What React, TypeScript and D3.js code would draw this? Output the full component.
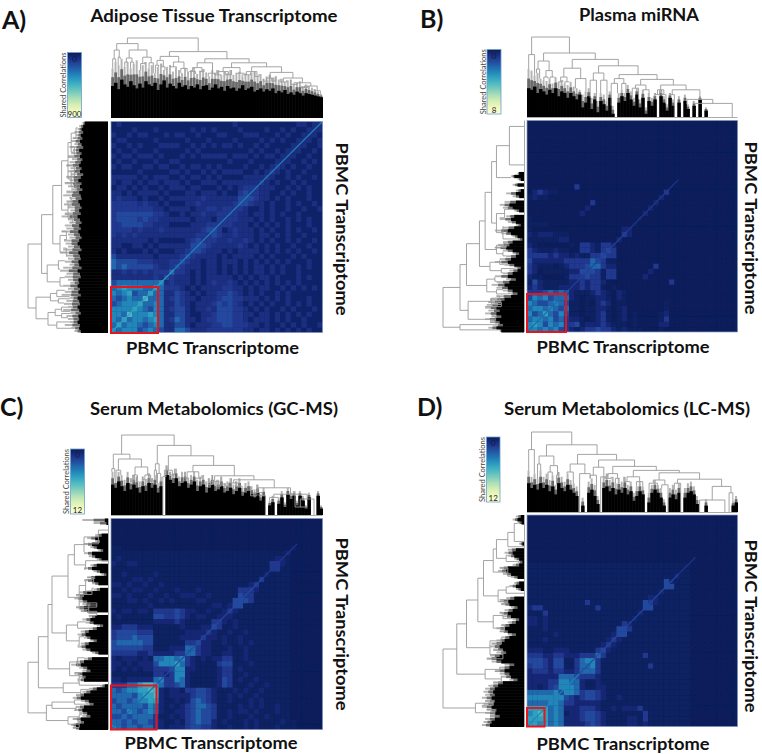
import React, { useEffect, useRef } from "react";
import * as d3 from "d3";

type Tree = number | any[];

// heatmap values, lower right triangle only, row 0 is the bottom row and each row starts on the diagonal
const heatA = [
  "6566645654225542223333333221221212121211",
  "756654565224421222334433322121121212112",
  "75665675235422123344433212221212112111",
  "8666765224421122344433221221212121211",
  "765465234421223244433212121121211121",
  "75565224321222343432121212112121211",
  "8555234322122234433222121212111211",
  "755224321212233432121211212111111",
  "75333212122223322121221121212121",
  "6232221212322321212121212121111",
  "432221212222212121221211121211",
  "5332121221212121221212112111",
  "4322212212121212212121121211",
  "432212212221212121212111211",
  "43222212122221212111212111",
  "4432221212222121212121121",
  "443222223212121211211211",
  "33322322321212112121121",
  "3432232221221212112111",
  "431232221212112121121",
  "33322212121212111211",
  "3332221212112121211",
  "332212212121121111",
  "33211212112112112",
  "4432212112121121",
  "443221212111211",
  "33221121211211",
  "3222112121211",
  "321211212111",
  "32112121121",
  "3212112111",
  "321211211",
  "22112121",
  "2211211",
  "221121",
  "22112",
  "2212",
  "221",
  "22",
  "2",
];
const heatB = [
  "66565643212334332121110001",
  "76465633412223211101000022",
  "6564532210123101201000013",
  "754641101123101201000012",
  "65451101122101200000001",
  "6541101023201100000001",
  "5521011221021",
  "421112321021",
  "223233101",
  "2323320000000000003",
  "3433133000002",
  "4431330000002",
  "5532200000003",
  "4311",
  "433",
  "43",
  "2",
  "2",
  "32",
  "2",
  "1",
  "1",
  "2",
  "2",
  "2",
  "2",
  "3",
];
const heatC = [
  "65455455321222344332112112121112111",
  "5454554321121345442121112121111211",
  "545555311212345443112111211211",
  "65456521122345443112122121112",
  "5546521212345543111121212112",
  "66772112124543211211121211",
  "7782122223443211212112111",
  "88212213344321112121121",
  "7533452111112431112112",
  "633652111112431211211",
  "23662111112331121",
  "46622111123312111",
  "7532111134411121",
  "6321212233112111",
  "55322112211211",
  "5322111211211",
  "42211211212",
  "322121121",
  "32112112",
  "4311211",
  "321211",
  "22111",
  "3211",
  "4411",
  "443",
  "331",
  "32",
  "31",
  "31",
  "21",
  "33",
  "32",
  "2",
  "2",
  "1",
];
const heatD = [
  "7767565222234321111221211111",
  "777565222344321111221311111",
  "87565122344321111111311",
  "756522233321121222311",
  "66533222221111111",
  "664323443211211",
  "4665344321111",
  "66521122",
  "5521121",
  "4333211",
  "55531",
  "5631111111113",
  "63",
  "5311111113",
  "42",
  "3211",
  "321",
  "441",
  "43",
  "21",
  "2",
  "2",
  "44",
  "32",
  "2",
  "2",
  "44",
  "2",
  "2",
  "1",
];
// the faint speckle reaches this far along each axis, past it the map is empty
const faintLimit = [40, 0, 34, 31];
// strength that digits 1 and 2 stand for in each panel: A is speckled all over, the others barely
const lowDigits = [[1, 2], [0.4, 1.5], [0.4, 1.5], [0.4, 1.5]];

// thin bright line down the diagonal: from, to, strength
const diagA = [[0, 30, 7], [30, 100, 6]];
const diagB = [[0, 20, 5], [20, 48, 3.5], [48, 72, 3]];
const diagC = [[0, 22, 5], [22, 72, 4], [72, 88, 3]];
const diagD = [[0, 25, 6], [25, 72, 4], [72, 80, 3]];

// dendrogram trees: [height, left, right], a bare number is a leaf position (0-100)
const treeATop: Tree = [100,
  [93, [85, [74, 0.8, 2.2], [76, 3.4, 4.4]], [85, [75, [70, 6.5, 8], [70, 9.2, 10.6]], [76, [68, 14, 16], [69, 18, 20]]]],
  [83, [77, [72, [66, 21, 22.5], [64, 24, 25.5]], [70, [64, 28, 31], [62, 33, 36]]],
    [74, [69, [63, [58, 37, 40], [58, 42, 44]], [56, 46, 50]],
      [69, [63, [58, [54, 49, 52], [54, 54, 57]], [56, 59, 63]],
        [64, [58, [54, 62, 66], [52, 68, 70]],
          [57, [50, [46, 72, 75], [46, 76, 78]], [50, [45, 80, 83], [44, [42, 85, 88], [40, [38, 90, 93], [34, 96, 99]]]]]]]]]];
const treeALeft: Tree = [100,
  [83, [69, [58, [50, [46, [40, 3, 8], [42, 12, 17]], [46, [42, 21, 26], [40, 29, 33]]], [50, [46, 36, 40], [44, 44, 48]]], [60, [52, 52, 56], [52, 60, 64]]],
    [76, [62, 66, 70], [60, 74, 78]]],
  [90, [72, [64, 80, 83], [62, 84, 86]], [75, [66, [58, 88, 90], [58, 91, 93]], [64, 95, 98]]]];
const treeBTop: Tree = [100,
  [78, 0.8, 3.6],
  [80, [70, [60, 4.5, 6], [58, [50, 8, 10], [50, 11, 13]]],
    [72, [61, [50, [44, 15, 17], [44, 18, 20]], [48, 23, 28]],
      [64, [55, [46, 30, 33], [46, 35, 38]],
        [53, [48, [42, 40, 43], [42, 45, 47]],
          [47, [40, [36, 50, 53], [34, 55, 58]],
            [40, [34, [28, 61, 63], [28, 64, 66]], [34, [28, 68, 70], [22, 76, [17, 79, 97.5]]]]]]]]]];
const treeBLeft: Tree = [100,
  [79, [71, [55, [48, [40, [34, [18, 2.8, 21], 27], [34, [24, 42, 46], [26, 50, 56]]], [34, [22, 58, 60], [26, 62, 64]]], [42, [30, 66, 68], [28, 70, 72]]],
    [46, [36, 74, 76], [34, 80, 82]]],
    [69, [40, [30, 83, 85], [28, 86, 88]], [35, 92.5, 95.5]]],
  [79, 96.5, 99]];
const treeCTop: Tree = [100,
  [76, [58, 0.4, 1.8], [70, [56, 2.4, 4.6], [60, [50, [42, 9.5, 11], [42, 12, 13]], [50, [44, 15, 17], [42, 18, 19.5]]]]],
  [87, [64, [56, 20.5, 21.5], [52, 22, 23.5]],
    [74, [56, [48, 24.5, 26], [50, 28, 30]],
      [62, [54, [46, 35, 37], [46, 40, 43]],
        [49, [42, [38, 46, 48], [36, 50, 52]],
          [44, [40, [36, 54, 57], [36, 59, 62]],
            [34, [28, [24, 66, 69], [24, 70, 73]], [26, [22, 75, 79], [20, [10, 87, 92], 96]]]]]]]]];
const treeCLeft: Tree = [100,
  [87, [75, [70, [50, [42, [30, [12, 5.5, 12], 16], [28, 20, 24]], [36, [28, [18, 28, 30], [20, 33, 36]], [24, [14, 40, 42], [14, 44, 46]]]],
    [52, [38, 49, 52], [36, 56, 60]]], [48, [38, 66, 70], [36, 73, 76]]],
    [56, [36, 77, 79], [34, 81, 84]]],
  [77, [70, [42, 86, 88], [40, 89, 91]], [50, [36, 93, 95], [36, 96, 99]]]];
const treeDTop: Tree = [100,
  [78, 0.8, 3.5],
  [84, [70, [60, 5, 6.5], [58, [50, 10, 12], [46, 14, 15]]],
    [72, [60, [50, 19, 22], [48, 25, 30]],
      [65, [56, [46, 30, 33], [44, 35, 38]],
        [57, [48, [42, 37, 40], [42, 42, 44]],
          [52, [44, [38, 46, 49], [38, 52, 55]],
            [49, [40, [36, 58, 62], [34, 64, 67]],
              [41, [36, 70, 73], [32, [15, 82, 94], [24, 96, 97.8]]]]]]]]]];
const treeDLeft: Tree = [100,
  [83, [71, [57, [50, [38, [34, [20, [12, 4, 12.5], 15], [22, 19, 22]], [20, 25, 29]], [32, [22, 34, 37], [20, 40, 42]]], [38, [26, 46, 49], [24, 52, 55]]],
    [42, [28, 58, 61], [26, 64, 68]]],
    [48, [30, 72, 74], [28, 76, 79]]],
  [60, [38, 88, 90], [36, 92, 95]]];

// silhouette of the dense leaves, height of the solid black and of the grey fringe above it
const blackATop = [40, 44, 36, 48, 42, 39, 46, 41, 37, 43, 38, 46, 42, 40, 44, 35, 42, 47, 38, 43, 40, 37, 44, 39, 41, 36, 40, 38, 42, 36, 40, 41, 35, 38, 42, 37, 39, 34, 40, 37, 38, 34, 37, 41, 35, 37, 39, 33, 35, 37, 33, 36, 34, 37, 31, 34, 32, 35, 30, 32, 29, 33, 31, 28, 31, 30, 29, 28, 27, 26];
const greyATop = [62, 70, 66, 74, 64, 70, 62, 68, 72, 60, 66, 70, 62, 66, 56, 64, 68, 60, 64, 66, 58, 63, 60, 56, 62, 58, 60, 63, 55, 59, 61, 57, 52, 60, 56, 60, 54, 58, 56, 60, 54, 56, 58, 52, 56, 54, 57, 58, 52, 55, 49, 52, 54, 50, 52, 48, 49, 45, 47, 48, 42, 44, 46, 40, 42, 40, 38, 36, 33, 30];
const blackALeft = [29, 31, 33, 31, 34, 32, 35, 33, 31, 36, 33, 35, 32, 34, 36, 33, 35, 31, 34, 37, 33, 35, 32, 36, 34, 33, 37, 35, 33, 36, 34, 38, 35, 33, 36, 34, 37, 35, 33, 36, 38, 35, 33, 37, 35, 34, 37, 36, 33, 38, 35, 34, 37, 36, 38, 35, 37, 34, 38, 36, 35, 38, 36, 34, 37, 36, 38, 35, 36, 34];
const greyALeft = [32, 36, 38, 42, 40, 44, 46, 42, 48, 44, 46, 50, 45, 48, 52, 47, 50, 46, 52, 48, 54, 50, 46, 52, 56, 48, 52, 55, 50, 47, 54, 58, 50, 48, 54, 52, 58, 50, 48, 55, 53, 50, 56, 60, 52, 50, 54, 48, 56, 60, 52, 54, 50, 47, 56, 50, 54, 58, 48, 52, 55, 50, 56, 47, 52, 50, 48, 54, 46, 42];
const blackBTop = [36, 34, 38, 30, 35, 32, 28, 34, 30, 36, 26, 32, 30, 24, 30, 26, 22, 28, 12, 18, 26, 10, 22, 6, 20, 16, 8, 24, 4, 0, 18, 26, 20, 30, 22, 14, 28, 12, 24, 4, 20, 14, 22, 0, 26, 18, 8, 24, 14, 0, 18, 0, 20, 10, 0, 14, 0, 22, 0, 8, 0, 0, 0, 0, 0, 0, 0, 0, 0, 0];
const greyBTop = [60, 58, 52, 55, 48, 46, 45, 48, 42, 50, 44, 46, 42, 40, 44, 38, 36, 34, 28, 32, 36, 24, 30, 20, 30, 28, 20, 32, 14, 0, 30, 34, 30, 40, 32, 24, 36, 22, 34, 12, 30, 24, 30, 0, 34, 26, 16, 30, 22, 0, 26, 0, 28, 16, 0, 20, 0, 26, 0, 12, 0, 0, 0, 0, 0, 0, 0, 0, 0, 0];
const blackBLeft = [0, 0, 0, 0, 0, 0, 0, 0, 0, 0, 0, 0, 0, 0, 0, 0, 0, 0, 6, 12, 4, 0, 8, 0, 4, 10, 6, 0, 10, 18, 14, 6, 0, 12, 16, 10, 4, 12, 20, 16, 8, 2, 14, 18, 22, 14, 6, 10, 16, 20, 12, 4, 8, 14, 20, 10, 18, 24, 20, 14, 8, 16, 24, 28, 32, 34, 30, 34, 28, 36, 30, 26, 34, 28];
const greyBLeft = [0, 0, 0, 0, 0, 0, 0, 0, 0, 0, 0, 0, 0, 0, 0, 0, 0, 0, 8, 16, 8, 0, 14, 0, 10, 22, 14, 0, 24, 30, 26, 12, 0, 22, 30, 20, 10, 26, 36, 28, 14, 8, 26, 32, 36, 26, 14, 22, 30, 36, 24, 12, 18, 26, 36, 22, 34, 40, 34, 26, 20, 34, 42, 44, 46, 48, 44, 48, 40, 48, 42, 38, 44, 30];
const blackCTop = [38, 34, 42, 36, 30, 40, 32, 38, 34, 28, 36, 30, 40, 34, 38, 28, 36, 0, 50, 44, 40, 46, 36, 40, 42, 34, 38, 42, 30, 36, 38, 28, 34, 38, 30, 32, 36, 28, 30, 34, 26, 30, 34, 24, 28, 30, 26, 22, 28, 18, 24, 0, 12, 16, 0, 14, 22, 10, 26, 20, 24, 12, 24, 18, 8, 22, 0, 0, 24, 8];
const greyCTop = [54, 46, 54, 50, 44, 54, 46, 50, 48, 42, 48, 44, 52, 46, 50, 40, 48, 0, 62, 54, 52, 58, 48, 54, 54, 46, 50, 54, 44, 48, 50, 42, 46, 50, 42, 44, 48, 40, 42, 46, 38, 42, 46, 34, 40, 42, 36, 32, 38, 26, 34, 0, 18, 24, 0, 22, 30, 16, 34, 28, 30, 18, 30, 24, 12, 28, 0, 0, 30, 12];
const blackCLeft = [4, 2, 0, 0, 0, 8, 16, 10, 20, 14, 6, 20, 16, 8, 0, 14, 20, 10, 2, 16, 20, 12, 0, 10, 26, 30, 32, 26, 22, 30, 26, 0, 16, 22, 18, 6, 14, 24, 28, 22, 14, 24, 28, 22, 12, 0, 20, 30, 34, 26, 22, 32, 28, 30, 0, 4, 14, 22, 30, 34, 24, 18, 30, 32, 26, 22, 34, 30, 40, 36];
const greyCLeft = [32, 18, 0, 0, 0, 16, 26, 16, 30, 22, 12, 30, 24, 14, 0, 22, 30, 18, 8, 26, 30, 20, 0, 18, 36, 40, 42, 36, 32, 40, 34, 0, 24, 32, 28, 14, 24, 34, 38, 30, 22, 34, 38, 32, 20, 0, 30, 40, 46, 36, 32, 42, 36, 38, 0, 10, 24, 32, 40, 44, 34, 28, 40, 42, 36, 32, 44, 38, 46, 44];
const blackDTop = [36, 30, 34, 28, 36, 30, 34, 26, 32, 22, 36, 30, 26, 34, 28, 24, 20, 0, 8, 0, 24, 28, 20, 10, 0, 30, 32, 26, 30, 22, 28, 24, 30, 22, 26, 14, 20, 26, 22, 0, 12, 24, 28, 24, 18, 8, 0, 18, 22, 16, 24, 0, 18, 24, 26, 22, 10, 0, 0, 8, 0, 0, 0, 0, 0, 0, 0, 0, 8, 12];
const greyDTop = [52, 44, 48, 42, 52, 44, 48, 40, 46, 34, 50, 44, 38, 48, 40, 36, 32, 0, 18, 0, 38, 42, 34, 20, 0, 44, 48, 40, 44, 36, 42, 38, 44, 34, 38, 24, 32, 38, 32, 0, 24, 34, 40, 34, 30, 16, 0, 30, 34, 28, 36, 0, 30, 36, 38, 32, 20, 0, 0, 16, 0, 0, 0, 0, 0, 0, 0, 0, 14, 20];
const blackDLeft = [4, 8, 3, 0, 0, 0, 0, 0, 0, 2, 0, 10, 14, 12, 6, 2, 6, 20, 22, 16, 8, 0, 6, 10, 4, 0, 0, 12, 20, 18, 8, 14, 20, 16, 6, 10, 18, 24, 20, 10, 18, 24, 28, 30, 26, 22, 30, 34, 28, 12, 18, 24, 18, 16, 8, 26, 32, 36, 38, 36, 40, 36, 38, 40, 34, 36, 30, 36, 40, 42];
const greyDLeft = [10, 14, 8, 0, 0, 0, 0, 0, 0, 6, 0, 20, 24, 20, 12, 8, 14, 30, 32, 26, 16, 0, 12, 18, 10, 0, 0, 22, 30, 28, 16, 24, 30, 26, 14, 20, 28, 34, 30, 20, 28, 34, 40, 42, 38, 34, 42, 46, 40, 24, 30, 36, 30, 28, 18, 38, 44, 48, 50, 48, 52, 48, 50, 52, 46, 48, 42, 48, 50, 52];

const legendMaxA = "900";
const legendMaxB = "8";
const legendMaxC = "12";
const legendMaxD = "12";
const bottomLabel = "PBMC Transcriptome";

// x0,x1,y0,y1 of the heatmap, then everything hung around it
const LAYOUT = [
  { tag: "A)", tagX: 2, tagY: 29, title: "Adipose Tissue Transcriptome", titleX: 214, titleY: 22, titleW: 247, hm: [111, 322.5, 121.5, 332.5], topY: [38, 118], leftX: [28, 108], bar: [67.5, 81.5, 52.5, 117.5], boxX: [111, 158], boxY: [287, 333], bottomX: 212.5, bottomY: 354, rightX: 336, rightY: 229, axis: false },
  { tag: "B)", tagX: 420, tagY: 28, title: "Plasma miRNA", titleX: 639, titleY: 21, titleW: 120, hm: [527, 737.5, 120.5, 332], topY: [37, 117], leftX: [443, 524], bar: [487, 501, 49.5, 114], boxX: [527, 566], boxY: [294, 332], bottomX: 623, bottomY: 353, rightX: 745, rightY: 228, axis: true },
  { tag: "C)", tagX: 0, tagY: 416, title: "Serum Metabolomics (GC-MS)", titleX: 214, titleY: 415, titleW: 248, hm: [111, 322.5, 518.5, 729.5], topY: [435, 515], leftX: [28, 108], bar: [70.5, 84.5, 449, 514], boxX: [111, 156.5], boxY: [685.5, 729.5], bottomX: 211, bottomY: 749, rightX: 336, rightY: 624, axis: true },
  { tag: "D)", tagX: 417, tagY: 416, title: "Serum Metabolomics (LC-MS)", titleX: 627, titleY: 415, titleW: 246, hm: [527, 737.5, 515, 726.5], topY: [432, 512], leftX: [443, 524], bar: [486.5, 500, 437, 502], boxX: [527, 544.5], boxY: [708, 726.5], bottomX: 623, bottomY: 750, rightX: 745, rightY: 626, axis: true },
];
const heats = [heatA, heatB, heatC, heatD];
const diags = [diagA, diagB, diagC, diagD];
const topTrees = [treeATop, treeBTop, treeCTop, treeDTop];
const leftTrees = [treeALeft, treeBLeft, treeCLeft, treeDLeft];
const topBlack = [blackATop, blackBTop, blackCTop, blackDTop];
const topGrey = [greyATop, greyBTop, greyCTop, greyDTop];
const leftBlack = [blackALeft, blackBLeft, blackCLeft, blackDLeft];
const leftGrey = [greyALeft, greyBLeft, greyCLeft, greyDLeft];
const legendMax = [legendMaxA, legendMaxB, legendMaxC, legendMaxD];

const FONT = "Lato,'Open Sans',sans-serif";
const N = 40;

// digit 0 is the darkest navy of the palette, digit 9 a pale teal; the low digits sit close together
const digitToT = d3.scaleLinear().domain([0, 1, 2, 3, 4, 5, 6, 7, 8, 9]).range([0.995, 0.965, 0.915, 0.87, 0.81, 0.73, 0.65, 0.57, 0.48, 0.38]);
const heatColor = (v: number) => d3.interpolateYlGnBu(digitToT(v));

function drawDendro(g: any, tree: Tree, black: number[], grey: number[], pos: number[], base: number[], horizontal: boolean) {
  const p = d3.scaleLinear().domain([0, 100]).range(pos);
  const h = d3.scaleLinear().domain([0, 100]).range(base);
  const band = d3.scaleBand<number>().domain(d3.range(black.length)).range(pos as [number, number]);
  const rects = (vals: number[], fill: string, shrink: number, extra: number) =>
    g.append("g").selectAll("rect").data(vals).join("rect")
      .attr("fill", fill)
      .attr(horizontal ? "x" : "y", (_: number, i: number) => band(i)! + (band.bandwidth() * (1 - shrink)) / 2)
      .attr(horizontal ? "width" : "height", (d: number) => (d > 0 ? band.bandwidth() * shrink + extra : 0))
      .attr(horizontal ? "y" : "x", (d: number) => (horizontal ? h(d) : Math.min(h(d), h(0))))
      .attr(horizontal ? "height" : "width", (d: number) => Math.abs(h(0) - h(d)));
  rects(grey, "#b4b4b4", 0.65, 0);
  // darker band where the fringe thickens towards the black
  rects(grey.map((v, i) => (v + black[i]) / 2), "#6a6a6a", 0.85, 0.2);
  rects(black, "#000", 1, 0.5);

  const root = d3.hierarchy<any>(tree, (n) => (Array.isArray(n) ? n.slice(1) : null));
  const fringe = (x: number) => grey[Math.min(grey.length - 1, Math.floor((x / 100) * grey.length))];
  root.eachAfter((n: any) => {
    if (n.children) {
      n.px = d3.mean(n.children, (c: any) => c.px);
      n.ph = n.data[0];
    } else {
      n.px = n.data;
      n.ph = fringe(n.data);
    }
  });
  const path = d3.path();
  const put = (a: number, b: number, move: boolean) => {
    const [x, y] = horizontal ? [p(a), h(b)] : [h(b), p(a)];
    if (move) path.moveTo(x, y);
    else path.lineTo(x, y);
  };
  root.each((n: any) => {
    if (!n.children) return;
    const [l, r] = n.children;
    put(l.px, l.ph, true);
    put(l.px, n.ph, false);
    put(r.px, n.ph, false);
    put(r.px, r.ph, false);
  });
  g.append("path").attr("d", path.toString()).attr("fill", "none").attr("stroke", "#9a9a9a").attr("stroke-width", 0.9);
}

const App = () => {
  const ref = useRef<SVGSVGElement>(null);
  useEffect(() => {
    const svg = d3.select(ref.current);
    svg.selectAll("*").remove();
    const defs = svg.append("defs");
    defs.append("filter").attr("id", "soft").attr("x", "-2%").attr("y", "-2%").attr("width", "104%").attr("height", "104%")
      .append("feGaussianBlur").attr("stdDeviation", 0.45);
    const grad = defs.append("linearGradient").attr("id", "ramp").attr("x1", 0).attr("x2", 0).attr("y1", 0).attr("y2", 1);
    d3.range(0, 1.001, 0.1).forEach((t) => {
      grad.append("stop").attr("offset", t).attr("stop-color", d3.interpolateYlGnBu(1 - t));
    });

    LAYOUT.forEach((L, k) => {
      const g = svg.append("g");
      const [x0, x1, y0, y1] = L.hm;
      const x = d3.scaleBand<number>().domain(d3.range(N)).range([x0, x1]);
      const y = d3.scaleBand<number>().domain(d3.range(N)).range([y1, y0]);
      defs.append("clipPath").attr("id", `clip${k}`).append("rect").attr("x", x0).attr("y", y0).attr("width", x1 - x0).attr("height", y1 - y0);

      // heatmap cells, mirrored across the diagonal; rows that stop early carry on faint up to the limit
      const cells: { i: number; j: number; v: number }[] = [];
      const level = (d: number) => (d === 1 || d === 2 ? lowDigits[k][d - 1] : d);
      d3.range(N).forEach((i) => {
        const row = heats[k][i] ?? "";
        d3.range(N - i).forEach((c) => {
          const v = level(c < row.length ? +row[c] : i + c < faintLimit[k] ? 1 : 0);
          cells.push({ i, j: i + c, v });
          if (c > 0) cells.push({ i: i + c, j: i, v });
        });
      });
      g.append("rect").attr("x", x0).attr("y", y0).attr("width", x1 - x0).attr("height", y1 - y0).attr("fill", heatColor(0));
      const hm = g.append("g").attr("clip-path", `url(#clip${k})`).append("g").attr("filter", "url(#soft)");
      hm.selectAll("rect").data(cells).join("rect")
        .attr("x", (d) => x(d.j)!)
        .attr("y", (d) => y(d.i)!)
        .attr("width", x.bandwidth() + 0.3)
        .attr("height", y.bandwidth() + 0.3)
        .attr("fill", (d) => heatColor(d.v));
      const dx = d3.scaleLinear().domain([0, 100]).range([x0, x1]);
      const dy = d3.scaleLinear().domain([0, 100]).range([y1, y0]);
      g.selectAll(".diag").data(diags[k]).join("line")
        .attr("x1", (d) => dx(d[0])).attr("y1", (d) => dy(d[0]))
        .attr("x2", (d) => dx(d[1])).attr("y2", (d) => dy(d[1]))
        .attr("stroke", (d) => heatColor(d[2])).attr("stroke-width", 1.1);
      g.append("rect").attr("x", x0).attr("y", y0).attr("width", x1 - x0).attr("height", y1 - y0)
        .attr("fill", "none").attr("stroke", "#8fa3c8").attr("stroke-width", 0.7);

      // dendrograms
      drawDendro(g.append("g"), topTrees[k], topBlack[k], topGrey[k], [x0, x1], [L.topY[1], L.topY[0]], true);
      drawDendro(g.append("g"), leftTrees[k], leftBlack[k], leftGrey[k], [y0, y1], [L.leftX[1], L.leftX[0]], false);
      if (L.axis) {
        g.append("line").attr("x1", x0).attr("x2", x1).attr("y1", L.topY[1] + 0.5).attr("y2", L.topY[1] + 0.5).attr("stroke", "#aaa");
        g.append("line").attr("x1", L.leftX[1] + 0.5).attr("x2", L.leftX[1] + 0.5).attr("y1", y0).attr("y2", y1).attr("stroke", "#aaa");
      }

      // red box
      g.append("rect").attr("x", L.boxX[0]).attr("y", L.boxY[0]).attr("width", L.boxX[1] - L.boxX[0]).attr("height", L.boxY[1] - L.boxY[0])
        .attr("fill", "none").attr("stroke", "#e8141c").attr("stroke-width", 2);

      // colour key
      const [bx0, bx1, by0, by1] = L.bar;
      g.append("rect").attr("x", bx0).attr("y", by0).attr("width", bx1 - bx0).attr("height", by1 - by0)
        .attr("fill", "url(#ramp)").attr("stroke", "#6f9fc8").attr("stroke-width", 0.8);
      const key = (txt: string, yy: number, col: string) =>
        g.append("text").attr("x", (bx0 + bx1) / 2).attr("y", yy).attr("text-anchor", "middle").attr("font-family", FONT).attr("font-size", 8).attr("fill", col).text(txt);
      key("0", by0 + 9, "#111a3a");
      key(legendMax[k], by1 - 0.8, "#222");
      g.append("text").attr("transform", `translate(${bx0 - 1.5},${(by0 + by1) / 2}) rotate(-90)`).attr("text-anchor", "middle")
        .attr("font-family", FONT).attr("font-size", 7.5).attr("fill", "#444").attr("textLength", 65).attr("lengthAdjust", "spacingAndGlyphs").text("Shared Correlations");

      // titles and axis labels
      const bold = (sel: any, size: number) => sel.attr("font-family", FONT).attr("font-weight", 700).attr("font-size", size).attr("fill", "#111");
      bold(g.append("text").attr("x", L.tagX).attr("y", L.tagY), 25).text(L.tag);
      bold(g.append("text").attr("x", L.titleX).attr("y", L.titleY).attr("text-anchor", "middle").attr("textLength", L.titleW).attr("lengthAdjust", "spacingAndGlyphs"), 16.5).text(L.title);
      bold(g.append("text").attr("x", L.bottomX).attr("y", L.bottomY).attr("text-anchor", "middle").attr("textLength", 173).attr("lengthAdjust", "spacingAndGlyphs"), 17).text(bottomLabel);
      bold(g.append("text").attr("transform", `translate(${L.rightX},${L.rightY}) rotate(90)`).attr("text-anchor", "middle").attr("textLength", 173).attr("lengthAdjust", "spacingAndGlyphs"), 17).text(bottomLabel);
    });
  }, []);

  return <svg ref={ref} width={762} height={754} style={{ position: "absolute", left: 0, top: 0, display: "block", background: "#fff" }} />;
};

export default App;
